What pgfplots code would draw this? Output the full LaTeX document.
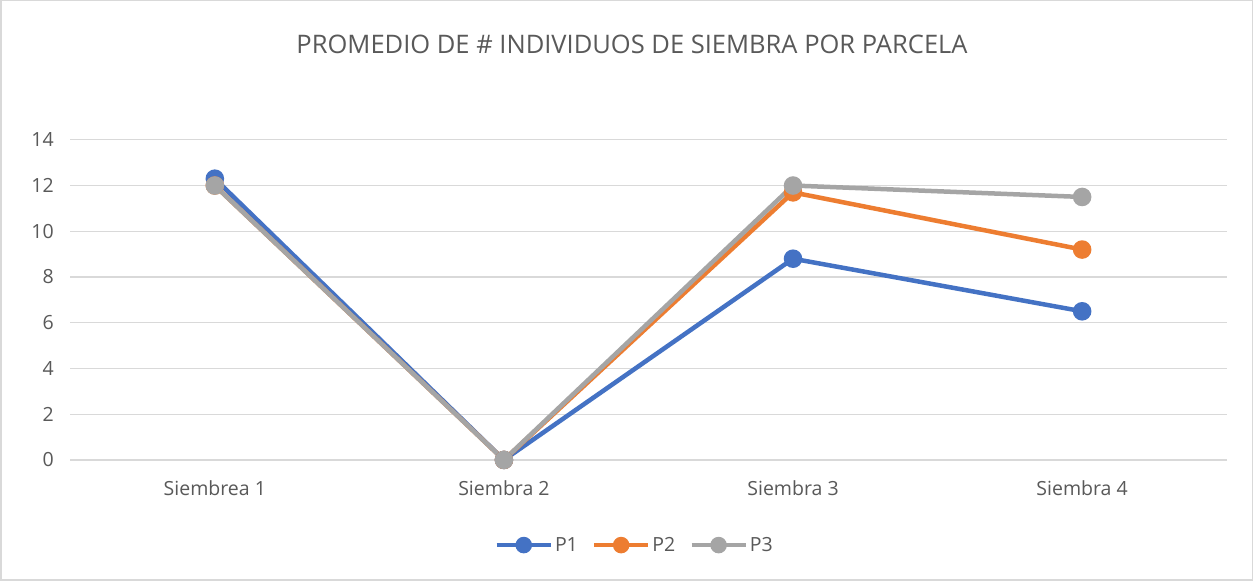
\documentclass[border=0pt]{standalone}
\usepackage{pgfplots}
\pgfplotsset{compat=1.18}
\usepackage{fontspec}
\setmainfont{Open Sans}
\definecolor{cP1}{HTML}{4472C4}
\definecolor{cP2}{HTML}{ED7D31}
\definecolor{cP3}{HTML}{A5A5A5}
\definecolor{txt}{HTML}{595959}
\definecolor{grd}{HTML}{D9D9D9}
\begin{document}
\begin{tikzpicture}[x=1pt,y=1pt]
\draw[grd,line width=1.5pt,fill=white] (1,1) rectangle (1252,580);
\node[txt,font=\fontsize{25.5}{29}\selectfont] at (632,536) {PROMEDIO DE \# INDIVIDUOS DE SIEMBRA POR PARCELA};
\begin{axis}[
  at={(70.5pt,121pt)}, anchor=south west,
  scale only axis, width=1156pt, height=320pt,
  xmin=-0.5, xmax=3.5, ymin=0, ymax=14,
  ytick={0,2,...,14},
  xtick={0,1,2,3},
  xticklabels={Siembrea 1,Siembra 2,Siembra 3,Siembra 4},
  axis line style={draw=none},
  axis x line*=bottom,
  ymajorgrids, grid style={grd,line width=1.3pt},
  major tick length=0pt,
  tick label style={txt,font=\fontsize{19.5}{23}\selectfont},
  yticklabel style={xshift=-13pt},
  xticklabel style={yshift=-17pt},
  /pgf/number format/assume math mode=true,
  legend style={at={(0.488,-0.266)}, anchor=center, draw=none, fill=none,
    legend columns=3, font=\fontsize{19.5}{23}\selectfont, text=txt,
    /tikz/every even column/.append style={column sep=12pt}},
  legend image code/.code={\draw[#1,mark repeat=2,mark phase=2,mark size=6pt] plot coordinates {(0pt,0pt)(27pt,0pt)(54pt,0pt)};},
  every axis plot/.append style={line width=4.5pt, mark=*, mark size=7pt, mark options={line width=0pt}},
  clip=false,
]
\addplot[cP1, mark options={fill=cP1,draw=cP1}] coordinates {(0,12.3)(1,0)(2,8.8)(3,6.5)};
\addplot[cP2, mark options={fill=cP2,draw=cP2}] coordinates {(0,12.0)(1,0)(2,11.7)(3,9.2)};
\addplot[cP3, mark options={fill=cP3,draw=cP3}] coordinates {(0,12.0)(1,0)(2,12.0)(3,11.5)};
\legend{P1,P2,P3}
\end{axis}
\end{tikzpicture}
\end{document}
